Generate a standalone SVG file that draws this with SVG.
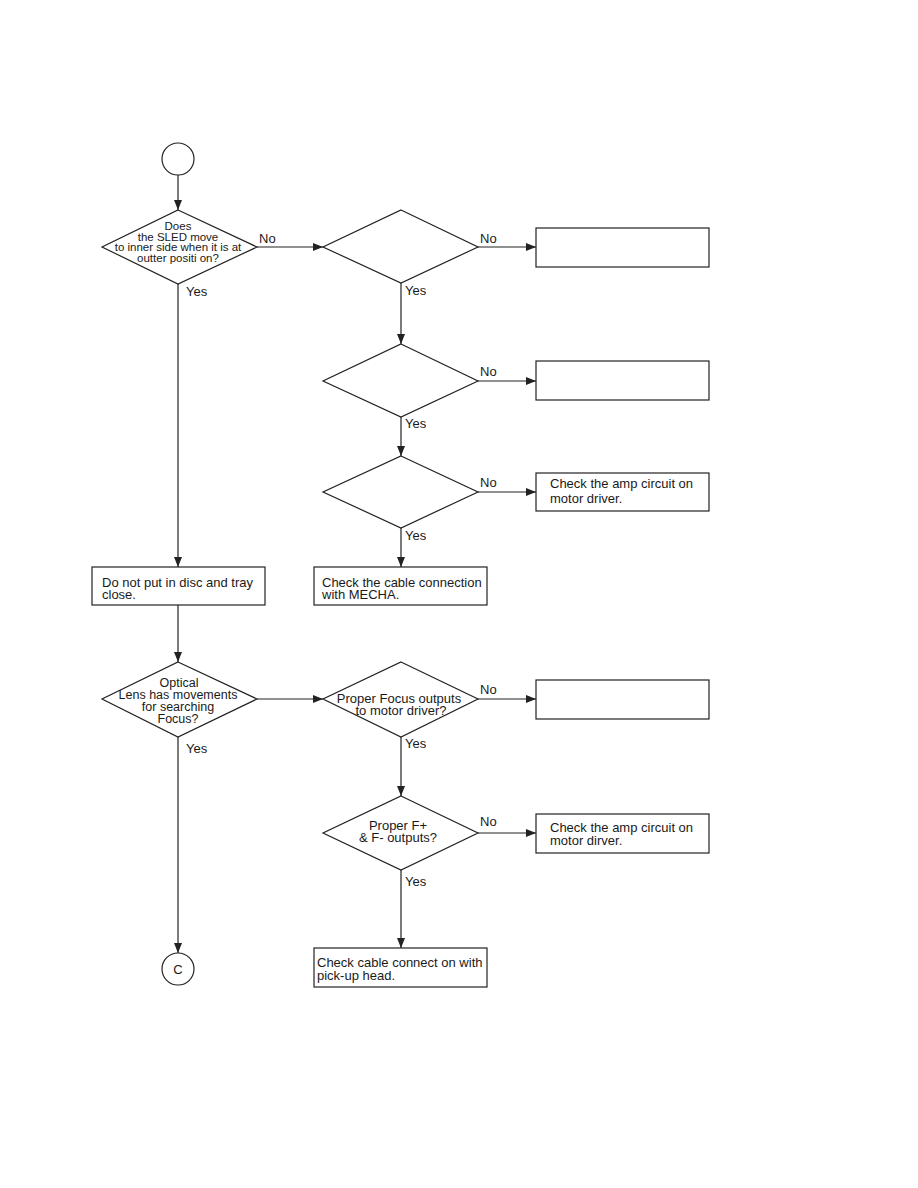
<svg xmlns="http://www.w3.org/2000/svg" width="918" height="1188" viewBox="0 0 918 1188">
<style>
.s{fill:#fff;stroke:#222;stroke-width:1.2}
.c{fill:none;stroke:#222;stroke-width:1.2}
text{font-family:"Liberation Sans",Arial,sans-serif;font-size:13px;fill:#1a1a1a}
.m{text-anchor:middle}
.d{font-size:11.5px}
.e{font-size:12.5px}
</style>
<defs>
<marker id="a" viewBox="0 0 10 8" refX="10" refY="4" markerWidth="10" markerHeight="8" markerUnits="userSpaceOnUse" orient="auto">
<path d="M0,0 L10,4 L0,8 Z" fill="#222"/>
</marker>
</defs>
<rect width="918" height="1188" fill="#fff"/>
<g id="connectors">
<line class="c" x1="178" y1="175" x2="178" y2="210" marker-end="url(#a)"/>
<line class="c" x1="257" y1="247" x2="323" y2="247" marker-end="url(#a)"/>
<line class="c" x1="478" y1="247" x2="536" y2="247" marker-end="url(#a)"/>
<line class="c" x1="401" y1="283" x2="401" y2="344" marker-end="url(#a)"/>
<line class="c" x1="478" y1="381" x2="536" y2="381" marker-end="url(#a)"/>
<line class="c" x1="401" y1="417" x2="401" y2="456" marker-end="url(#a)"/>
<line class="c" x1="478" y1="492" x2="536" y2="492" marker-end="url(#a)"/>
<line class="c" x1="401" y1="528" x2="401" y2="567" marker-end="url(#a)"/>
<line class="c" x1="178" y1="284" x2="178" y2="567" marker-end="url(#a)"/>
<line class="c" x1="178" y1="605" x2="178" y2="662" marker-end="url(#a)"/>
<line class="c" x1="257" y1="699" x2="323" y2="699" marker-end="url(#a)"/>
<line class="c" x1="478" y1="699" x2="536" y2="699" marker-end="url(#a)"/>
<line class="c" x1="401" y1="737" x2="401" y2="796" marker-end="url(#a)"/>
<line class="c" x1="478" y1="833" x2="536" y2="833" marker-end="url(#a)"/>
<line class="c" x1="401" y1="870" x2="401" y2="948" marker-end="url(#a)"/>
<line class="c" x1="178" y1="737" x2="178" y2="953" marker-end="url(#a)"/>
<text x="259" y="243">No</text>
<text x="480" y="243">No</text>
<text x="405" y="295">Yes</text>
<text x="480" y="376">No</text>
<text x="405" y="428">Yes</text>
<text x="480" y="487">No</text>
<text x="405" y="540">Yes</text>
<text x="186" y="296">Yes</text>
<text x="186" y="753">Yes</text>
<text x="480" y="694">No</text>
<text x="405" y="748">Yes</text>
<text x="480" y="826">No</text>
<text x="405" y="886">Yes</text>
</g>
<g id="start">
<circle class="s" cx="178" cy="159" r="16"/>
</g>
<g id="d1">
<polygon class="s" points="178,210 257,247 178,284 102,247"/>
<text class="m d" x="178" y="230">Does</text>
<text class="m d" x="178" y="240.5">the SLED move</text>
<text class="m d" x="178" y="251">to inner side when it is at</text>
<text class="m d" x="178" y="261.5">outter positi on?</text>
</g>
<g id="d2">
<polygon class="s" points="401,210 478,247 401,283 323,247"/>
</g>
<g id="b1">
<rect class="s" x="536" y="228" width="173" height="39"/>
</g>
<g id="d3">
<polygon class="s" points="401,344 478,381 401,417 323,381"/>
</g>
<g id="b2">
<rect class="s" x="536" y="361" width="173" height="39"/>
</g>
<g id="d4">
<polygon class="s" points="401,456 478,492 401,528 323,492"/>
</g>
<g id="b3">
<rect class="s" x="536" y="473" width="173" height="38"/>
<text x="550" y="488">Check the amp circuit on</text>
<text x="550" y="503">motor driver.</text>
</g>
<g id="b4">
<rect class="s" x="92" y="567" width="173" height="38"/>
<text x="102" y="587">Do not put in disc and tray</text>
<text x="102" y="598.5">close.</text>
</g>
<g id="b5">
<rect class="s" x="314" y="567" width="173" height="38"/>
<text x="322" y="587">Check the cable connection</text>
<text x="322" y="598.5">with MECHA.</text>
</g>
<g id="d5">
<polygon class="s" points="178,662 257,699 178,737 102,699"/>
<text class="m e" x="179" y="687">Optical</text>
<text class="m e" x="178" y="699">Lens has movements</text>
<text class="m e" x="178" y="711">for searching</text>
<text class="m e" x="178" y="723">Focus?</text>
</g>
<g id="d6">
<polygon class="s" points="401,662 478,699 401,737 323,699"/>
<text class="m" x="399" y="703">Proper Focus  outputs</text>
<text class="m" x="401" y="715">to motor driver?</text>
</g>
<g id="b6">
<rect class="s" x="536" y="680" width="173" height="39"/>
</g>
<g id="d7">
<polygon class="s" points="401,796 478,833 401,870 323,833"/>
<text class="m" x="398" y="830">Proper F+</text>
<text class="m" x="398" y="842">&amp; F- outputs?</text>
</g>
<g id="b7">
<rect class="s" x="536" y="814" width="173" height="39"/>
<text x="550" y="832">Check the amp circuit on</text>
<text x="550" y="845">motor dirver.</text>
</g>
<g id="b8">
<rect class="s" x="314" y="948" width="173" height="39"/>
<text x="317" y="967">Check cable connect on with</text>
<text x="317" y="980">pick-up head.</text>
</g>
<g id="end">
<circle class="s" cx="178" cy="969" r="16"/>
<text class="m" x="178" y="974">C</text>
</g>
</svg>
